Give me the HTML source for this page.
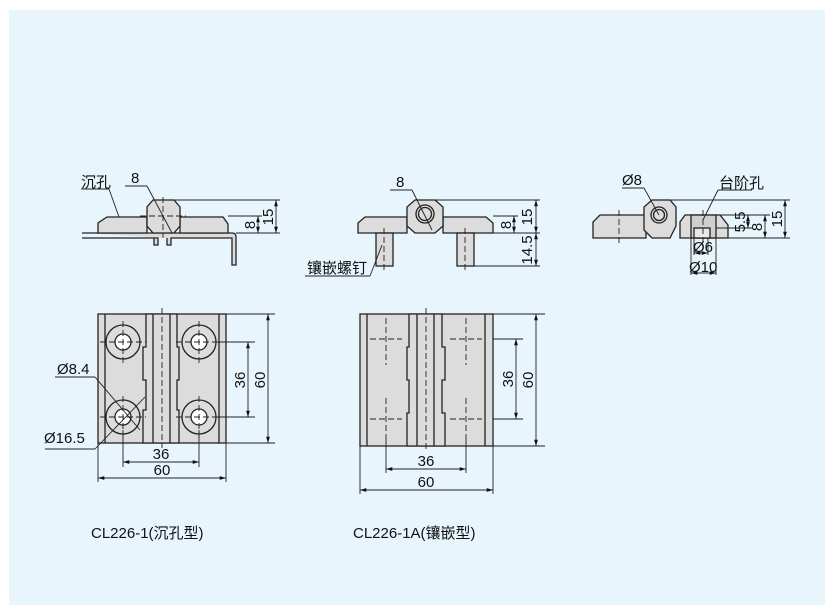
<!DOCTYPE html>
<html><head><meta charset="utf-8"><style>
body{margin:0;background:#fff;width:835px;height:605px;overflow:hidden}
svg{display:block}
text{font-family:"Liberation Sans","Noto Sans CJK SC",sans-serif;fill:#111}
</style></head><body>
<svg width="835" height="605" viewBox="0 0 835 605" xmlns="http://www.w3.org/2000/svg">
<defs>
<marker id="a" viewBox="0 0 10 10" refX="10" refY="5" markerWidth="7" markerHeight="7" orient="auto-start-reverse"><path d="M0,2 L10,5 L0,8 Z" fill="#111"/></marker>
</defs>
<rect x="9" y="10" width="816" height="595" fill="#e8f5fd"/>
<g stroke="#222" stroke-width="1.3" fill="#dcdcdc">
<path d="M82,233 H232 Q236,233 236,237 V265 H232 V238 H171 V245 H167 V238 M158,238 V245 H154 V238 H82 Z" fill="#dcdcdc"/>
<path d="M98,233 V223 L107,217 H147 V233 Z"/>
<path d="M180,217 H223 L228,224 V233 H180 Z"/>
<path d="M153,200 H174 L180,207 V226 L174,233 H153 L147,226 V207 Z"/>
<path d="M358,233 V223 L365,217 H407 V233 Z"/>
<path d="M443,217 H486 L493,223 V233 H443 Z"/>
<path d="M415,200 H435 L443,207 V226 L435,233 H415 L407,226 V207 Z"/>
<circle cx="425" cy="214" r="9"/><circle cx="425" cy="214" r="6.5"/>
<rect x="376" y="233" width="17" height="33"/>
<rect x="457" y="233" width="17" height="33"/>
<path d="M593,238 V222 L600,215 H646 V238 Z"/>
<path d="M652,200 H670 L676,207 V226 L670,238 H652 L644,230 V207 Z"/>
<circle cx="659" cy="215" r="8"/><circle cx="659" cy="215" r="5.5"/>
<path d="M680,238 V222 L685,215 H720 L728,225 V238 Z"/>
<rect x="691" y="215" width="25" height="23" fill="#cfcfcf"/>
<rect x="694" y="228" width="16" height="10" fill="#e8e8e8"/>
<rect x="98" y="314" width="128" height="129"/>
<path d="M146,314 H177 V347 H179 V380 H177 V410 H179 V443 H143 V410 H146 V380 H143 V347 H146 Z"/>
<line x1="105" y1="314" x2="105" y2="443"/><line x1="219" y1="314" x2="219" y2="443"/>
<line x1="153" y1="314" x2="153" y2="443"/><line x1="170" y1="314" x2="170" y2="443"/>
<circle cx="123" cy="342" r="17"/><circle cx="123" cy="342" r="8" fill="#fff"/>
<circle cx="199" cy="342" r="17"/><circle cx="199" cy="342" r="8" fill="#fff"/>
<circle cx="123" cy="417" r="17"/><circle cx="123" cy="417" r="8" fill="#fff"/>
<circle cx="199" cy="417" r="17"/><circle cx="199" cy="417" r="8" fill="#fff"/>
<rect x="360" y="314" width="133" height="132"/>
<path d="M409,314 H442 V347 H445 V380 H442 V413 H445 V446 H407 V413 H409 V380 H407 V347 H409 Z"/>
<line x1="367" y1="314" x2="367" y2="446"/><line x1="485" y1="314" x2="485" y2="446"/>
<line x1="417" y1="314" x2="417" y2="446"/><line x1="434" y1="314" x2="434" y2="446"/>
</g>
<g stroke="#222" stroke-width="0.9" stroke-dasharray="6,3" fill="none">
<line x1="163" y1="197" x2="163" y2="238"/><line x1="140" y1="216" x2="186" y2="216"/>
<line x1="384" y1="228" x2="384" y2="272"/><line x1="465" y1="228" x2="465" y2="272"/>
<line x1="619" y1="210" x2="619" y2="244"/><line x1="703" y1="210" x2="703" y2="245"/>
<line x1="162" y1="308" x2="162" y2="448"/><line x1="426" y1="308" x2="426" y2="452"/>
<line x1="123" y1="321" x2="123" y2="363"/><line x1="100" y1="342" x2="146" y2="342"/>
<line x1="199" y1="321" x2="199" y2="363"/><line x1="176" y1="342" x2="222" y2="342"/>
<line x1="123" y1="396" x2="123" y2="438"/><line x1="100" y1="417" x2="146" y2="417"/>
<line x1="199" y1="396" x2="199" y2="438"/><line x1="176" y1="417" x2="222" y2="417"/>
<line x1="386" y1="318" x2="386" y2="365"/><line x1="370" y1="339" x2="402" y2="339"/>
<line x1="466" y1="318" x2="466" y2="365"/><line x1="450" y1="339" x2="482" y2="339"/>
<line x1="386" y1="398" x2="386" y2="440"/><line x1="370" y1="419" x2="402" y2="419"/>
<line x1="466" y1="398" x2="466" y2="440"/><line x1="450" y1="419" x2="482" y2="419"/>
</g>
<g stroke="#222" stroke-width="0.9" fill="none">
<line x1="174" y1="200" x2="280" y2="200"/><line x1="228" y1="216" x2="262" y2="216"/><line x1="236" y1="233" x2="280" y2="233"/>
<line x1="258" y1="225" x2="258" y2="216" marker-end="url(#a)"/><line x1="258" y1="224" x2="258" y2="233" marker-end="url(#a)"/>
<line x1="276" y1="200" x2="276" y2="233" marker-start="url(#a)" marker-end="url(#a)"/>
<line x1="125" y1="186" x2="147" y2="186"/><line x1="147" y1="186" x2="172" y2="233"/>
<line x1="81" y1="189" x2="109" y2="189"/><line x1="109" y1="189" x2="119" y2="217"/>
<line x1="435" y1="200" x2="540" y2="200"/><line x1="493" y1="216" x2="518" y2="216"/><line x1="493" y1="233" x2="540" y2="233"/><line x1="474" y1="266" x2="540" y2="266"/>
<line x1="514" y1="225" x2="514" y2="216" marker-end="url(#a)"/><line x1="514" y1="224" x2="514" y2="233" marker-end="url(#a)"/>
<line x1="536" y1="200" x2="536" y2="233" marker-start="url(#a)" marker-end="url(#a)"/>
<line x1="536" y1="233" x2="536" y2="266" marker-start="url(#a)" marker-end="url(#a)"/>
<line x1="390" y1="190" x2="412" y2="190"/><line x1="412" y1="190" x2="432" y2="230"/>
<line x1="305" y1="276" x2="370" y2="276"/><line x1="370" y1="276" x2="382" y2="245"/>
<line x1="670" y1="200" x2="790" y2="200"/><line x1="716" y1="215" x2="770" y2="215"/><line x1="716" y1="228" x2="752" y2="228"/><line x1="728" y1="238" x2="790" y2="238"/>
<line x1="748" y1="215" x2="748" y2="228" marker-start="url(#a)" marker-end="url(#a)"/>
<line x1="765" y1="215" x2="765" y2="238" marker-start="url(#a)" marker-end="url(#a)"/>
<line x1="785" y1="200" x2="785" y2="238" marker-start="url(#a)" marker-end="url(#a)"/>
<line x1="622" y1="188" x2="644" y2="188"/><line x1="644" y1="188" x2="659" y2="215"/>
<line x1="718" y1="190" x2="752" y2="190"/><line x1="718" y1="190" x2="703" y2="220"/>
<line x1="691" y1="238" x2="691" y2="275"/><line x1="716" y1="238" x2="716" y2="275"/><line x1="694" y1="238" x2="694" y2="255"/><line x1="708" y1="238" x2="708" y2="255"/>
<line x1="694" y1="253" x2="708" y2="253" marker-start="url(#a)" marker-end="url(#a)"/>
<line x1="691" y1="273" x2="716" y2="273" marker-start="url(#a)" marker-end="url(#a)"/>
<line x1="226" y1="314" x2="275" y2="314"/><line x1="226" y1="443" x2="275" y2="443"/>
<line x1="215" y1="342" x2="255" y2="342"/><line x1="215" y1="417" x2="255" y2="417"/>
<line x1="268" y1="314" x2="268" y2="443" marker-start="url(#a)" marker-end="url(#a)"/>
<line x1="248" y1="342" x2="248" y2="417" marker-start="url(#a)" marker-end="url(#a)"/>
<line x1="123" y1="430" x2="123" y2="467"/><line x1="199" y1="430" x2="199" y2="467"/>
<line x1="98" y1="443" x2="98" y2="482"/><line x1="226" y1="443" x2="226" y2="482"/>
<line x1="123" y1="462" x2="199" y2="462" marker-start="url(#a)" marker-end="url(#a)"/>
<line x1="98" y1="478" x2="226" y2="478" marker-start="url(#a)" marker-end="url(#a)"/>
<line x1="55" y1="377" x2="95" y2="377"/><line x1="95" y1="377" x2="140" y2="430"/>
<line x1="45" y1="449" x2="95" y2="449"/><line x1="95" y1="449" x2="145" y2="397"/>
<line x1="493" y1="314" x2="545" y2="314"/><line x1="493" y1="446" x2="545" y2="446"/>
<line x1="493" y1="339" x2="523" y2="339"/><line x1="493" y1="419" x2="523" y2="419"/>
<line x1="536" y1="314" x2="536" y2="446" marker-start="url(#a)" marker-end="url(#a)"/>
<line x1="516" y1="339" x2="516" y2="419" marker-start="url(#a)" marker-end="url(#a)"/>
<line x1="386" y1="440" x2="386" y2="473"/><line x1="466" y1="440" x2="466" y2="473"/>
<line x1="360" y1="446" x2="360" y2="494"/><line x1="493" y1="446" x2="493" y2="494"/>
<line x1="386" y1="469" x2="466" y2="469" marker-start="url(#a)" marker-end="url(#a)"/>
<line x1="360" y1="490" x2="493" y2="490" marker-start="url(#a)" marker-end="url(#a)"/>
</g>
<g font-size="15">
<text x="81" y="187">沉孔</text>
<text x="131" y="183">8</text>
<text x="396" y="187">8</text>
<text x="307" y="273">镶嵌螺钉</text>
<text x="622" y="185">Ø8</text>
<text x="719" y="188">台阶孔</text>
<text x="693" y="252">Ø6</text>
<text x="689" y="272">Ø10</text>
<text transform="translate(255,225) rotate(-90)" text-anchor="middle">8</text>
<text transform="translate(273,217) rotate(-90)" text-anchor="middle">15</text>
<text transform="translate(511,225) rotate(-90)" text-anchor="middle">8</text>
<text transform="translate(532,217) rotate(-90)" text-anchor="middle">15</text>
<text transform="translate(532,250) rotate(-90)" text-anchor="middle">14.5</text>
<text transform="translate(745,222) rotate(-90)" text-anchor="middle">5.5</text>
<text transform="translate(762,227) rotate(-90)" text-anchor="middle">8</text>
<text transform="translate(782,219) rotate(-90)" text-anchor="middle">15</text>
<text transform="translate(245,380) rotate(-90)" text-anchor="middle">36</text>
<text transform="translate(265,380) rotate(-90)" text-anchor="middle">60</text>
<text transform="translate(513,379) rotate(-90)" text-anchor="middle">36</text>
<text transform="translate(533,380) rotate(-90)" text-anchor="middle">60</text>
<text x="161" y="459" text-anchor="middle">36</text>
<text x="162" y="475" text-anchor="middle">60</text>
<text x="426" y="466" text-anchor="middle">36</text>
<text x="426" y="487" text-anchor="middle">60</text>
<text x="57" y="374">Ø8.4</text>
<text x="44" y="443">Ø16.5</text>
<text x="91" y="538">CL226-1(沉孔型)</text>
<text x="353" y="538">CL226-1A(镶嵌型)</text>
</g>
</svg>
</body></html>
